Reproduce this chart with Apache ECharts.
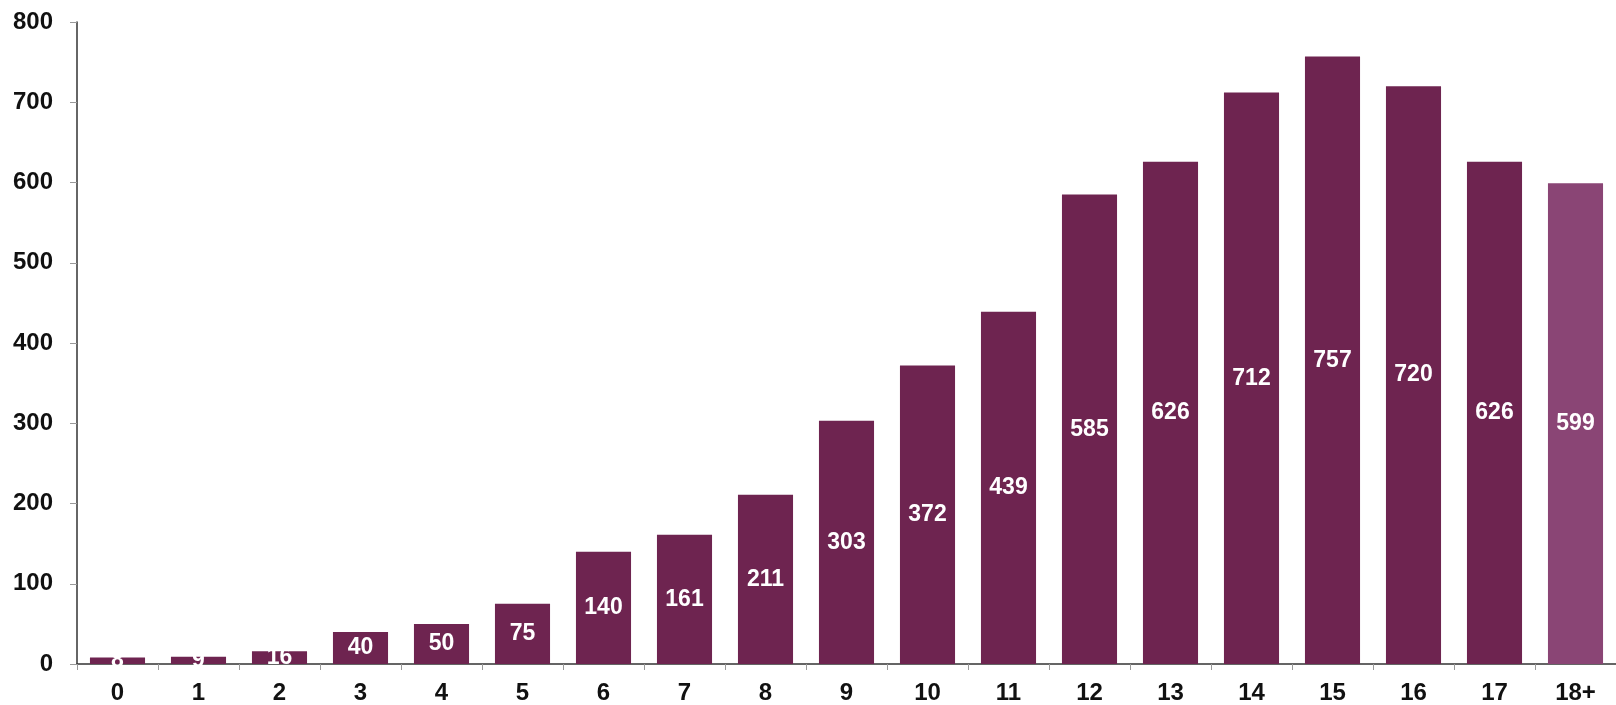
<!DOCTYPE html>
<html><head><meta charset="utf-8">
<script src="https://cdn.jsdelivr.net/npm/echarts@6/dist/echarts.min.js"></script>
<style>html,body{margin:0;padding:0;background:#fff}#c{width:1616px;height:705px}</style>
</head><body><div id="c"></div>
<script>
const categories = ['0','1','2','3','4','5','6','7','8','9','10','11','12','13','14','15','16','17','18+'];
const values = [8,9,16,40,50,75,140,161,211,303,372,439,585,626,712,757,720,626,599];
const yTicks = [0,100,200,300,400,500,600,700,800];
const darkColor = '#6E2450';
const lightColor = '#8A4575';

const chart = echarts.init(document.getElementById('c'), null, {renderer:'canvas'});
chart.setOption({
  animation:false,
  grid:{left:77, top:22, height:642, width:1547},
  xAxis:{
    type:'category', data:categories,
    axisLine:{lineStyle:{color:'#333', width:1.5}},
    axisTick:{show:true, alignWithLabel:false, length:6, lineStyle:{color:'#999'}},
    axisLabel:{color:'#111', fontFamily:'Liberation Sans, Arial', fontWeight:'bold', fontSize:24, margin:17}
  },
  yAxis:{
    type:'value', min:0, max:800, interval:100,
    axisLine:{show:true, lineStyle:{color:'#333', width:1.5}},
    axisTick:{show:true, length:7, lineStyle:{color:'#999'}},
    splitLine:{show:false},
    axisLabel:{color:'#111', fontFamily:'Liberation Sans, Arial', fontWeight:'bold', fontSize:24, margin:24,
      formatter:v => yTicks.includes(v) ? String(v) : ''}
  },
  series:[{
    type:'bar',
    data: values.map((v,i)=>({value:v, itemStyle:{color: i===values.length-1 ? lightColor : darkColor}})),
    barCategoryGap:'32%',
    label:{show:true, position:'inside', color:'#fff', fontFamily:'Liberation Sans, Arial', fontWeight:'bold', fontSize:23}
  }]
});
</script></body></html>
